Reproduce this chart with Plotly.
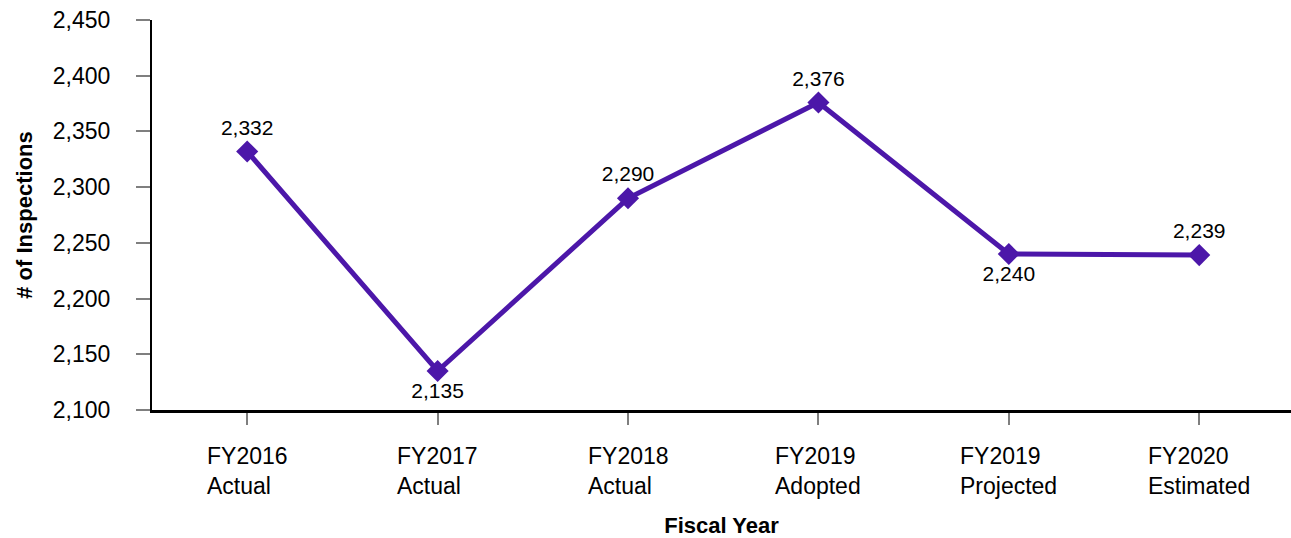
import plotly.graph_objects as go

# Annual inspection counts by fiscal year
categories = ["FY2016<br>Actual", "FY2017<br>Actual", "FY2018<br>Actual",
              "FY2019<br>Adopted", "FY2019<br>Projected", "FY2020<br>Estimated"]
inspections = [2332, 2135, 2290, 2376, 2240, 2239]
label_positions = ["top center", "bottom center", "top center",
                   "top center", "bottom center", "top center"]
y_ticks = [2100, 2150, 2200, 2250, 2300, 2350, 2400, 2450]

FONT = "Arial, 'Liberation Sans', sans-serif"
PURPLE = "#4C17A9"

x_idx = list(range(len(categories)))

fig = go.Figure(
    go.Scatter(
        x=x_idx,
        y=inspections,
        mode="lines+markers+text",
        line=dict(color=PURPLE, width=5),
        marker=dict(symbol="diamond", size=17, color=PURPLE),
        text=[f"{v:,}" for v in inspections],
        textposition=label_positions,
        textfont=dict(family=FONT, size=21, color="#000000"),
        cliponaxis=False,
        hoverinfo="skip",
    )
)

# Category labels: each two-line block centred under its tick, lines left-aligned
for i, cat in enumerate(categories):
    fig.add_annotation(
        x=i, xref="x",
        y=0, yref="paper",
        yanchor="top", xanchor="center",
        yshift=-31,
        text=cat,
        align="left",
        showarrow=False,
        font=dict(family=FONT, size=23, color="#000000"),
    )

fig.update_layout(
    width=1291,
    height=538,
    margin=dict(l=152, r=0, t=20, b=128),
    paper_bgcolor="white",
    plot_bgcolor="white",
    showlegend=False,
    font=dict(family=FONT, color="#000000"),
)

fig.update_xaxes(
    tickmode="array",
    tickvals=x_idx,
    showticklabels=False,
    range=[-0.5, 5.482],
    showgrid=False,
    zeroline=False,
    showline=True,
    linecolor="#000000",
    linewidth=3,
    ticks="outside",
    ticklen=12,
    tickwidth=1.5,
    tickcolor="#7f7f7f",
    title=dict(text="<b>Fiscal Year</b>", font=dict(family=FONT, size=22, color="#000000"),
               standoff=96),
)

fig.update_yaxes(
    range=[2100, 2450],
    tickmode="array",
    tickvals=y_ticks,
    tickformat=",",
    showgrid=False,
    zeroline=False,
    showline=True,
    linecolor="#000000",
    linewidth=2,
    ticks="outside",
    ticklen=14,
    tickwidth=1.5,
    tickcolor="#7f7f7f",
    ticklabelstandoff=21,
    tickfont=dict(family=FONT, size=23, color="#000000"),
    title=dict(text="<b># of Inspections</b>", font=dict(family=FONT, size=22, color="#000000"),
               standoff=14),
)

fig.write_html("out.html")
